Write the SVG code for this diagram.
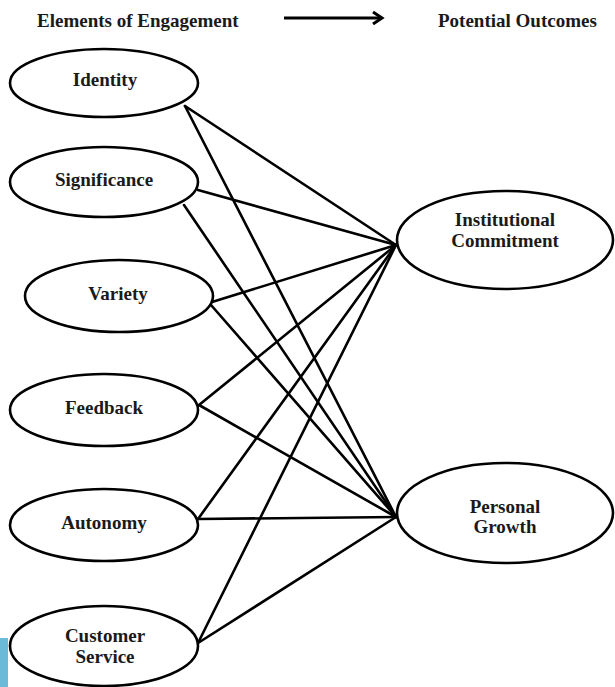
<svg xmlns="http://www.w3.org/2000/svg" width="615" height="687" viewBox="0 0 615 687">
<style>
  .node ellipse { fill: #ffffff; stroke: #000000; stroke-width: 2.6; }
  .node text, .hdr { font-family: "Liberation Serif", "Times New Roman", serif; font-weight: bold; font-size: 19px; fill: #1a1a1a; text-anchor: middle; }
  .hdr { text-anchor: start; }
  #connectors line { stroke: #000000; stroke-width: 2.6; stroke-linecap: round; }
</style>
<defs>
  <marker id="chev" viewBox="0 0 14 14" refX="11" refY="7" markerWidth="14" markerHeight="14" markerUnits="userSpaceOnUse" orient="auto">
    <path d="M2,1 L11,7 L2,13" fill="none" stroke="#000" stroke-width="3" stroke-linejoin="miter"/>
  </marker>
</defs>
<rect x="0" y="0" width="615" height="687" fill="#ffffff"/>
<rect x="0" y="638" width="8" height="49" fill="#6bbad8"/>
<g id="header">
  <text class="hdr" x="37" y="27">Elements of Engagement</text>
  <line x1="284" y1="18" x2="382" y2="18" stroke="#000" stroke-width="3" marker-end="url(#chev)"/>
  <text class="hdr" x="438" y="27">Potential Outcomes</text>
</g>
<g id="connectors">
  <line x1="185" y1="106" x2="396" y2="245"/>
  <line x1="185" y1="106" x2="396" y2="517"/>
  <line x1="198" y1="190" x2="396" y2="245"/>
  <line x1="184" y1="205" x2="396" y2="517"/>
  <line x1="212" y1="302" x2="396" y2="245"/>
  <line x1="211" y1="305" x2="396" y2="517"/>
  <line x1="199" y1="405" x2="396" y2="245"/>
  <line x1="199" y1="405" x2="396" y2="517"/>
  <line x1="198" y1="519" x2="396" y2="245"/>
  <line x1="198" y1="519" x2="396" y2="517"/>
  <line x1="198" y1="643" x2="396" y2="245"/>
  <line x1="198" y1="643" x2="396" y2="517"/>
</g>
<g id="identity" class="node">
  <ellipse cx="104" cy="83" rx="94" ry="34"/>
  <text x="105" y="86">Identity</text>
</g>
<g id="significance" class="node">
  <ellipse cx="104" cy="182" rx="94" ry="35"/>
  <text x="104" y="186">Significance</text>
</g>
<g id="variety" class="node">
  <ellipse cx="119" cy="296" rx="94" ry="36"/>
  <text x="118" y="300">Variety</text>
</g>
<g id="feedback" class="node">
  <ellipse cx="104" cy="410" rx="94" ry="36"/>
  <text x="104" y="414">Feedback</text>
</g>
<g id="autonomy" class="node">
  <ellipse cx="104" cy="525" rx="94" ry="36"/>
  <text x="104" y="529">Autonomy</text>
</g>
<g id="customer-service" class="node">
  <ellipse cx="104" cy="646" rx="94" ry="40"/>
  <text x="105" y="642">Customer</text>
  <text x="105" y="663">Service</text>
</g>
<g id="institutional-commitment" class="node">
  <ellipse cx="505" cy="240" rx="108" ry="49"/>
  <text x="505" y="226">Institutional</text>
  <text x="505" y="247">Commitment</text>
</g>
<g id="personal-growth" class="node">
  <ellipse cx="505" cy="513" rx="108" ry="50"/>
  <text x="505" y="513">Personal</text>
  <text x="505" y="533">Growth</text>
</g>
</svg>
